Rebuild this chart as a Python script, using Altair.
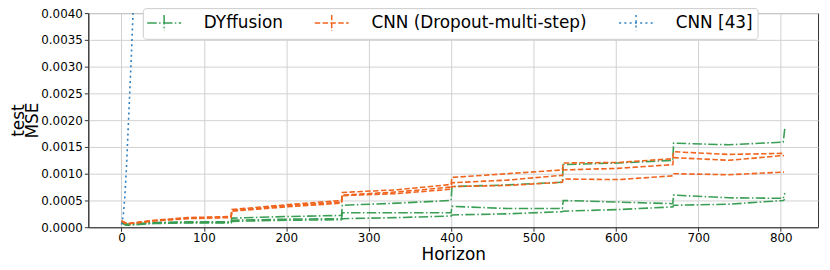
import altair as alt
import pandas as pd

# ---- data ----
models = ["DYffusion", "CNN (Dropout-multi-step)", "CNN [43]"]

h_green = [0, 5, 10, 40, 80, 133, 134, 200, 267, 268, 335, 400, 401, 468, 535,
           536, 603, 669, 670, 737, 803, 805]
green_a = [0.00010, 0.00006, 0.00006, 0.00009, 0.00010, 0.00010, 0.00017, 0.00020,
           0.00022, 0.00041, 0.00045, 0.00050, 0.00076, 0.00079, 0.00084, 0.00117,
           0.00120, 0.00125, 0.00157, 0.00154, 0.00159, 0.00185]
green_b = [0.00008, 0.00005, 0.00005, 0.00008, 0.00009, 0.00009, 0.00013, 0.00015,
           0.00016, 0.00027, 0.00027, 0.00027, 0.00039, 0.00035, 0.00035, 0.00050,
           0.00047, 0.00044, 0.00060, 0.00055, 0.00054, 0.00064]
green_c = [0.00009, 0.00004, 0.00004, 0.00007, 0.00008, 0.00008, 0.00011, 0.00013,
           0.00014, 0.00016, 0.00018, 0.00021, 0.00023, 0.00025, 0.00029, 0.00030,
           0.00033, 0.00038, 0.00041, 0.00043, 0.00050, 0.00052]

h_orange = [0, 5, 10, 40, 80, 133, 134, 200, 267, 268, 335, 400, 401, 468, 535,
            536, 603, 669, 670, 737, 804]
orange_a = [0.00012, 0.00008, 0.00007, 0.00013, 0.00018, 0.00020, 0.00033, 0.00042,
            0.00050, 0.00065, 0.00070, 0.00080, 0.00093, 0.00100, 0.00107, 0.00120,
            0.00121, 0.00128, 0.00141, 0.00136, 0.00138]
orange_b = [0.00011, 0.00008, 0.00007, 0.00012, 0.00017, 0.00019, 0.00031, 0.00040,
            0.00047, 0.00060, 0.00066, 0.00075, 0.00083, 0.00088, 0.00097, 0.00107,
            0.00110, 0.00117, 0.00130, 0.00125, 0.00134]
orange_c = [0.00011, 0.00007, 0.00007, 0.00012, 0.00016, 0.00018, 0.00030, 0.00038,
            0.00045, 0.00059, 0.00063, 0.00071, 0.00076, 0.00078, 0.00084, 0.00090,
            0.00089, 0.00096, 0.00100, 0.00098, 0.00103]

h_blue = [0, 2, 4, 6, 8, 10, 12, 14, 16]
blue_a = [0.00005, 0.00020, 0.00055, 0.00110, 0.00180, 0.00250, 0.00320, 0.00400, 0.00480]

x_ticks = [0, 100, 200, 300, 400, 500, 600, 700, 800]
y_ticks = [0.0, 0.0005, 0.0010, 0.0015, 0.0020, 0.0025, 0.0030, 0.0035, 0.0040]

colors = ["#3a9e55", "#f0641e", "#2b7fc2"]
dashes = [[9.6, 2.4, 1.5, 2.4], [5.5, 2.4], [2, 3.3]]

rows = []
for model, hs, runs in [
    (models[0], h_green, [green_a, green_b, green_c]),
    (models[1], h_orange, [orange_a, orange_b, orange_c]),
    (models[2], h_blue, [blue_a]),
]:
    for i, vals in enumerate(runs):
        for h, v in zip(hs, vals):
            rows.append({"model": model, "run": f"{model}-{i}", "h": h, "mse": v})
df = pd.DataFrame(rows)

PLOT_H = 216

legend = alt.Legend(
    title=None, orient="none", legendX=55, legendY=-5, direction="horizontal",
    columns=3, columnPadding=28, symbolType="M-1.9,0H1.9M0,-0.9V0.9",
    symbolSize=324, symbolOffset=7, symbolStrokeWidth=1.5,
    symbolFillColor="transparent", labelFontSize=17, labelFont="DejaVu Sans",
    labelColor="black", labelOffset=30, labelLimit=400, fillColor="white",
    strokeColor="#cccccc", cornerRadius=3, padding=4.5,
)

chart = alt.Chart(df).mark_line(clip=True, strokeWidth=1.6).encode(
    x=alt.X("h:Q",
            scale=alt.Scale(domain=[-40.25, 845.25], nice=False, zero=False),
            axis=alt.Axis(values=x_ticks, title="Horizon", titleY=32.5,
                          titleBaseline="alphabetic", labelPadding=1)),
    y=alt.Y("mse:Q",
            scale=alt.Scale(domain=[0, 0.004], nice=False),
            axis=alt.Axis(values=y_ticks, format=".4f", title=["test", "MSE"],
                          titleAngle=-90, titleX=-70, titleY=PLOT_H / 2,
                          titleAlign="center", titleBaseline="middle",
                          titleLineHeight=14, labelPadding=2)),
    color=alt.Color("model:N", scale=alt.Scale(domain=models, range=colors),
                    legend=legend),
    strokeDash=alt.StrokeDash("model:N", scale=alt.Scale(domain=models, range=dashes),
                              legend=legend),
    detail="run:N",
).properties(
    width=736, height=PLOT_H,
    autosize=alt.AutoSizeParams(type="none"),
    padding={"left": 81, "top": 4, "right": 4, "bottom": 41},
).configure_axis(
    labelFont="DejaVu Sans", labelFontSize=12, labelColor="black",
    titleFont="DejaVu Sans", titleFontSize=17, titleColor="black",
    titleFontWeight="normal", tickColor="#333333", tickSize=4,
    domainColor="#333333", gridColor="#d0d0d0", gridWidth=1,
).configure_view(stroke="#333333", strokeWidth=1)

chart.save("out.html", embed_options={"renderer": "svg", "actions": False})
